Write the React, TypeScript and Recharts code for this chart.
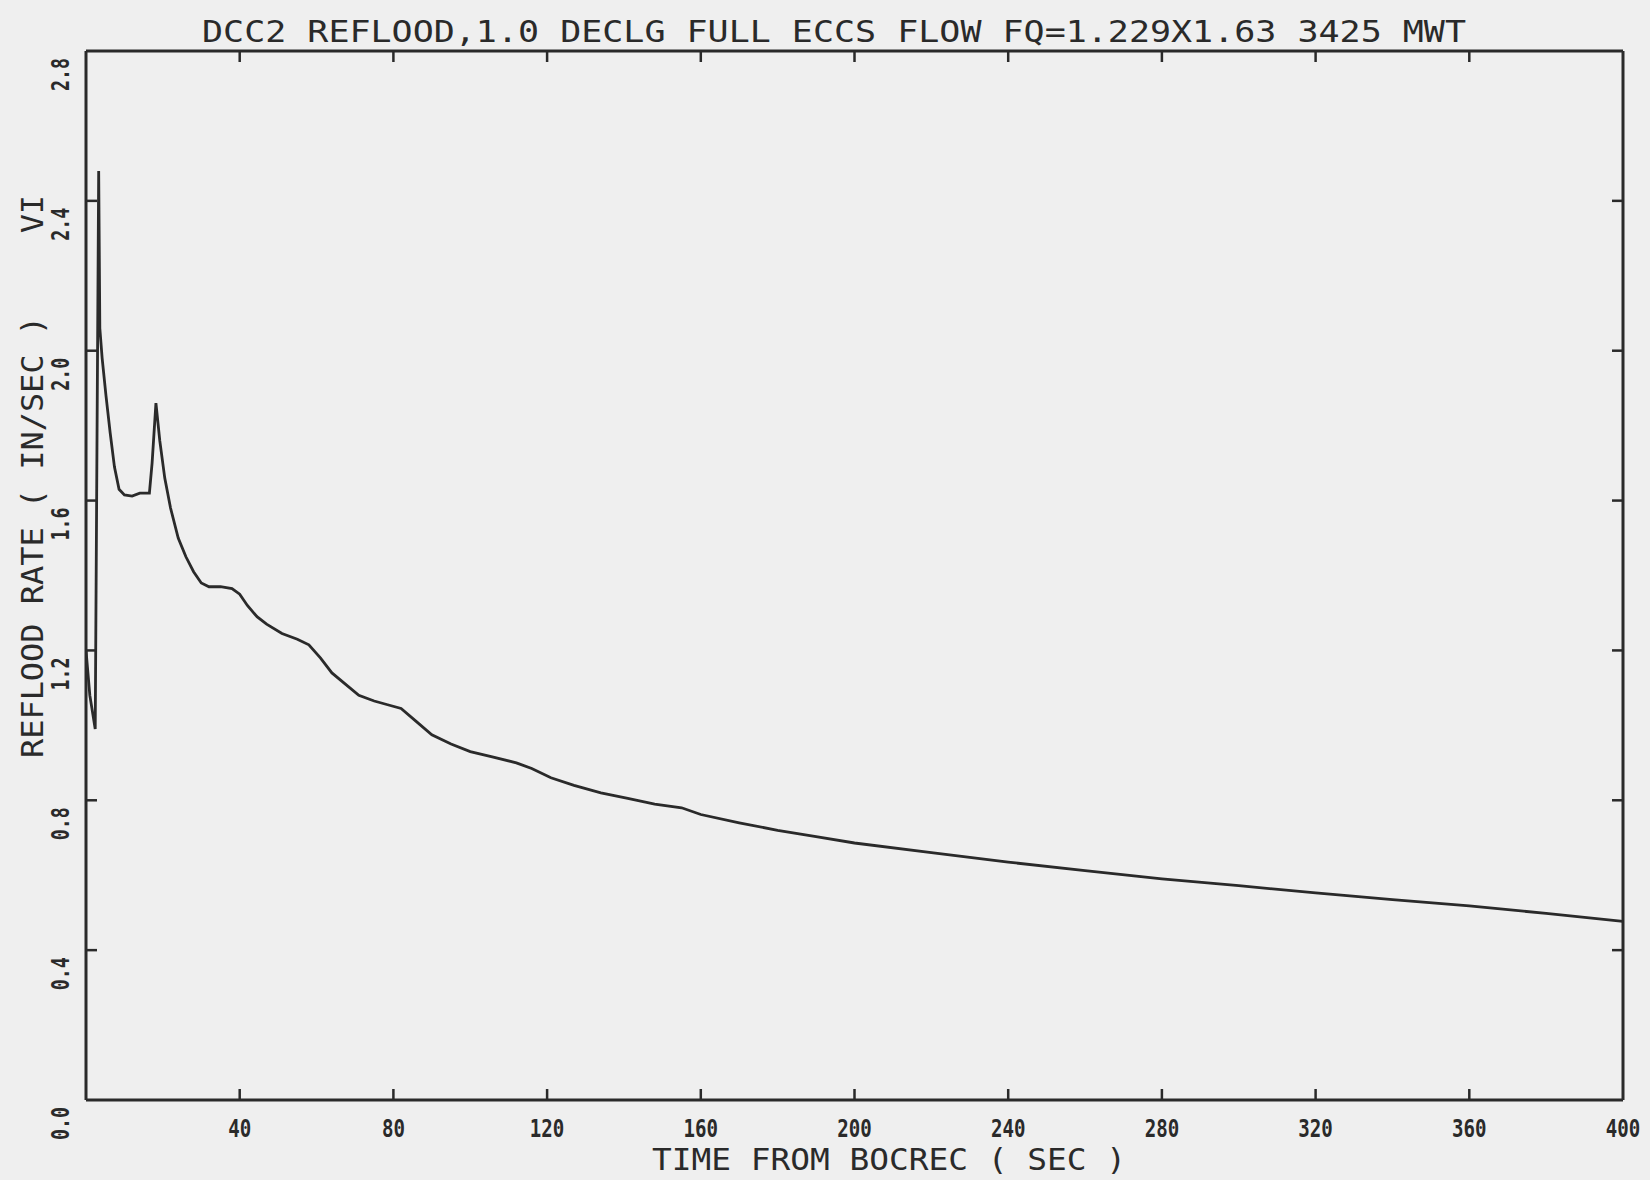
import React from "react";
import { LineChart, Line, XAxis, YAxis } from "recharts";

// ---- data ----
const TIME_S = [
  0, 1, 2.4, 3.3, 3.6, 4.2, 5.2, 6.3, 7.4, 8.6, 10, 12, 14, 16.5, 17.2, 18.2,
  19.2, 20.5, 22, 24, 26, 28, 30, 32, 35, 38, 40, 42, 44.5, 47, 51, 55, 58,
  61, 64, 67.5, 71, 75, 78.5, 82, 86, 90, 95, 100, 106, 112, 116, 121, 127,
  134, 141, 148, 155, 160, 170, 180, 190, 200, 220, 240, 260, 280, 300, 320,
  340, 360, 380, 400,
];
const REFLOOD_RATE = [
  1.2, 1.08, 0.99, 2.48, 2.06, 1.98, 1.88, 1.78, 1.69, 1.63, 1.615, 1.612,
  1.62, 1.62, 1.7, 1.86, 1.76, 1.66, 1.58, 1.5, 1.45, 1.41, 1.38, 1.37, 1.37,
  1.365, 1.35, 1.32, 1.29, 1.27, 1.245, 1.23, 1.215, 1.18, 1.14, 1.11, 1.08,
  1.065, 1.055, 1.045, 1.01, 0.975, 0.95, 0.93, 0.915, 0.9, 0.885, 0.86, 0.84,
  0.82, 0.805, 0.79, 0.78, 0.762, 0.74, 0.72, 0.703, 0.686, 0.66, 0.635,
  0.612, 0.59, 0.572, 0.553, 0.535, 0.518, 0.498, 0.477,
];
const X_TICKS = [0, 40, 80, 120, 160, 200, 240, 280, 320, 360, 400];
const Y_TICKS = [0, 0.4, 0.8, 1.2, 1.6, 2.0, 2.4, 2.8];

const TITLE = "DCC2 REFLOOD,1.0 DECLG FULL ECCS FLOW FQ=1.229X1.63 3425 MWT";
const X_TITLE = "TIME FROM BOCREC ( SEC )";
const Y_TITLE = "REFLOOD RATE ( IN/SEC )";
const FIG_TAG = "VI";

// ---- look ----
const INK = "#2a2a2a";
const PAPER = "#efefef";
const FONT = "'DejaVu Sans Mono', 'Liberation Mono', monospace";
const TICK_LEN = 11;
const X_MAX = 400;
const Y_MAX = 2.8;

const rows = TIME_S.map((t, i) => ({ t, v: REFLOOD_RATE[i] }));

// bottom axis: inward tick + number below
function BottomTick(props: any) {
  const { x, y, payload } = props;
  const v = payload.value as number;
  const s = String(v);
  return (
    <g>
      {v > 0 && v < X_MAX && (
        <line x1={x} y1={y} x2={x} y2={y - TICK_LEN} stroke={INK} strokeWidth={2.5} />
      )}
      {v > 0 && (
        <text
          x={x}
          y={y + 37}
          textAnchor="middle"
          fill={INK}
          fontFamily={FONT}
          fontWeight={700}
          fontSize={24}
          textLength={11.5 * s.length}
          lengthAdjust="spacingAndGlyphs"
        >
          {s}
        </text>
      )}
    </g>
  );
}

function TopTick(props: any) {
  const { x, y, payload } = props;
  const v = payload.value as number;
  if (v <= 0 || v >= X_MAX) return <g />;
  return <line x1={x} y1={y} x2={x} y2={y + TICK_LEN} stroke={INK} strokeWidth={2.5} />;
}

// left axis: inward tick + rotated number
function LeftTick(props: any) {
  const { x, y, payload } = props;
  const v = payload.value as number;
  const s = v.toFixed(1);
  return (
    <g>
      {v > 0 && v < Y_MAX && (
        <line x1={x} y1={y} x2={x + TICK_LEN} y2={y} stroke={INK} strokeWidth={2.5} />
      )}
      <text
        transform={`translate(${x - 17},${y + 7}) rotate(-90)`}
        textAnchor="end"
        fill={INK}
        fontFamily={FONT}
        fontWeight={700}
        fontSize={24}
        textLength={33}
        lengthAdjust="spacingAndGlyphs"
      >
        {s}
      </text>
    </g>
  );
}

function RightTick(props: any) {
  const { x, y, payload } = props;
  const v = payload.value as number;
  if (v <= 0 || v >= Y_MAX) return <g />;
  return <line x1={x} y1={y} x2={x - TICK_LEN} y2={y} stroke={INK} strokeWidth={2.5} />;
}

export default function App() {
  const axisLine = { stroke: INK, strokeWidth: 3 };
  return (
    <div
      style={{
        position: "absolute",
        left: 0,
        top: 0,
        width: 1650,
        height: 1180,
        background: PAPER,
        overflow: "hidden",
      }}
    >
      <LineChart
        width={1650}
        height={1180}
        data={rows}
        margin={{ top: 41, right: 17, bottom: 20, left: 26 }}
      >
        <XAxis
          xAxisId="b"
          dataKey="t"
          type="number"
          domain={[0, X_MAX]}
          allowDataOverflow
          ticks={X_TICKS}
          height={60}
          tickSize={0}
          tickMargin={0}
          tickLine={false}
          axisLine={axisLine}
          tick={BottomTick}
          interval={0}
        />
        <XAxis
          xAxisId="t"
          dataKey="t"
          orientation="top"
          type="number"
          domain={[0, X_MAX]}
          allowDataOverflow
          ticks={X_TICKS}
          height={10}
          tickSize={0}
          tickMargin={0}
          tickLine={false}
          axisLine={axisLine}
          tick={TopTick}
          interval={0}
        />
        <YAxis
          yAxisId="l"
          type="number"
          domain={[0, Y_MAX]}
          allowDataOverflow
          ticks={Y_TICKS}
          width={60}
          tickSize={0}
          tickMargin={0}
          tickLine={false}
          axisLine={axisLine}
          tick={LeftTick}
          interval={0}
        />
        <YAxis
          yAxisId="r"
          dataKey="v"
          orientation="right"
          type="number"
          domain={[0, Y_MAX]}
          allowDataOverflow
          ticks={Y_TICKS}
          width={10}
          tickSize={0}
          tickMargin={0}
          tickLine={false}
          axisLine={axisLine}
          tick={RightTick}
          interval={0}
        />
        <Line
          xAxisId="b"
          yAxisId="l"
          dataKey="v"
          type="linear"
          stroke={INK}
          strokeWidth={2.8}
          dot={false}
          isAnimationActive={false}
        />
      </LineChart>

      {/* titles */}
      <svg
        width={1650}
        height={1180}
        style={{ position: "absolute", left: 0, top: 0, pointerEvents: "none" }}
      >
        <text
          x={202}
          y={42}
          fill={INK}
          fontFamily={FONT}
          fontSize={31}
          textLength={1264}
          lengthAdjust="spacingAndGlyphs"
        >
          {TITLE}
        </text>
        <text
          x={889}
          y={1170}
          textAnchor="middle"
          fill={INK}
          fontFamily={FONT}
          fontSize={31}
          textLength={474}
          lengthAdjust="spacingAndGlyphs"
        >
          {X_TITLE}
        </text>
        <text
          transform="translate(43,537) rotate(-90)"
          textAnchor="middle"
          fill={INK}
          fontFamily={FONT}
          fontSize={30}
          textLength={442}
          lengthAdjust="spacingAndGlyphs"
        >
          {Y_TITLE}
        </text>
        <text
          transform="translate(43,214) rotate(-90)"
          textAnchor="middle"
          fill={INK}
          fontFamily={FONT}
          fontSize={31}
          textLength={38}
          lengthAdjust="spacingAndGlyphs"
        >
          {FIG_TAG}
        </text>
      </svg>
    </div>
  );
}
